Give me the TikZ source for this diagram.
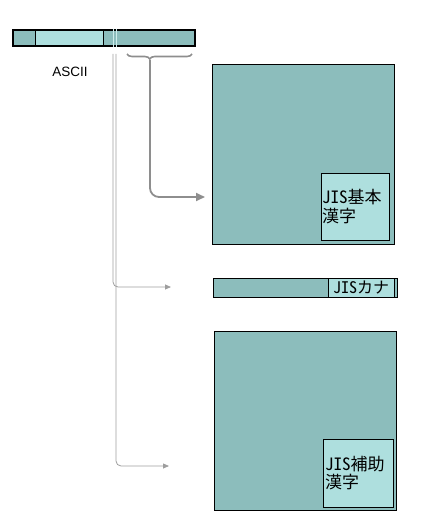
\documentclass[tikz,border=0pt]{standalone}
\usepackage{fontspec}
\setsansfont{Liberation Sans}
\newfontfamily\jpfont{Noto Sans CJK JP}
\newfontfamily\jplatin[RawFeature=+hwid]{Noto Sans CJK JP}
\usepackage{tikz}
\usetikzlibrary{arrows.meta,calc,positioning,decorations.pathreplacing}
\definecolor{codedark}{HTML}{8CBDBC}
\definecolor{codelight}{HTML}{AEDFDE}
\definecolor{linkgray}{HTML}{9E9E9E}
\definecolor{bracegray}{HTML}{8E8E8E}
\newcommand{\jis}{{\jplatin JIS}}

\tikzset{
	cell/.style={draw=black,line width=0.8pt,inner sep=0pt,outer sep=0pt},
	dark/.style={cell,fill=codedark},
	light/.style={cell,fill=codelight},
	jistext/.style={font=\jpfont\fontsize{17}{18.5}\selectfont,align=left,text width=66pt,inner sep=1pt},
	link/.style={draw=linkgray,line width=0.8pt,rounded corners=5pt,-{Triangle[length=6pt,width=5pt]}},
}

\begin{document}
\begin{tikzpicture}[x=1pt,y=-1pt]
		\useasboundingbox (0,0) rectangle (422,516);
		% code space bar
		\node[dark,minimum width=22,minimum height=16,anchor=north west] (ctl) at (13,30) {};
		\node[light,minimum width=68,minimum height=16,right=0pt of ctl] (ascii) {};
		\node[dark,minimum width=92,minimum height=16,right=0pt of ascii] (upper) {};
		\draw[line width=1.6pt] (ctl.north west) rectangle (upper.south east);
		\draw[codelight!60!white,line width=0.6pt] ($(upper.north west)+(10,-1)$) -- ($(upper.south west)+(10,1)$);
		\draw[codelight!60!white,line width=0.6pt] ($(upper.north west)+(13,-1)$) -- ($(upper.south west)+(13,1)$);
		\node[font=\sffamily\fontsize{13.5}{15}\selectfont] (asciilabel) at (70,72) {ASCII};
		
		% kanji plane 1
		\node[dark,minimum width=182,minimum height=180,anchor=north west] (kihon) at (212,64) {};
		\node[light,minimum width=68,minimum height=67,anchor=south east] (kihonsub) at ($(kihon.south east)+(-5,-4)$) {};
		\node[jistext] at (kihonsub.center) {\jis 基本\\漢字};
		
		% kana row
		\node[dark,minimum width=115,minimum height=19,anchor=north west] (kanarow) at (213,278) {};
		\node[light,minimum width=66,minimum height=19,right=0pt of kanarow,font=\jpfont\fontsize{16}{18}\selectfont,inner sep=0pt] (kana) {\jis カナ};
		\node[dark,minimum width=3,minimum height=19,right=0pt of kana] (kanaend) {};
		
		% kanji plane 2
		\node[dark,minimum width=182,minimum height=179,anchor=north west] (hojo) at (214,331) {};
		\node[light,minimum width=70,minimum height=68,anchor=south east] (hojosub) at ($(hojo.south east)+(-3,-3)$) {};
		\node[jistext] at (hojosub.center) {\jis 補助\\漢字};
		
		% brace and links
		\coordinate (bracel) at (127,54);
		\coordinate (bracer) at (192,54);
		\coordinate (bracetip) at (150,60);
		\coordinate (kihonin) at (205,197);
		\coordinate (kanain) at (171,287);
		\coordinate (hojoin) at (169,466);
		\draw[bracegray,line width=1.6pt,decorate,decoration={brace,mirror,amplitude=5pt,aspect=0.35}] (bracel) -- (bracer);
		\draw[bracegray,line width=1.8pt,rounded corners=9pt,-{Triangle[length=9pt,width=8pt]}] (bracetip) |- (kihonin);
		\draw[link] ($(upper.south west)+(10,8)$) |- (kanain);
		\draw[link] ($(upper.south west)+(13,8)$) |- (hojoin);
	\end{tikzpicture}
\end{document}
